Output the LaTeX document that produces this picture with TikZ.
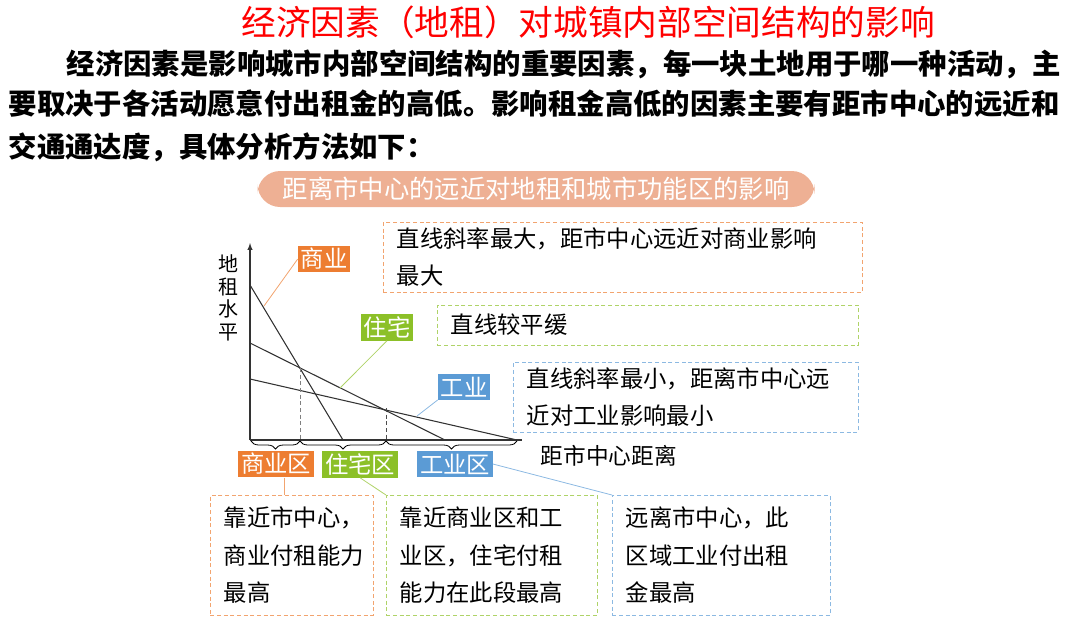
\documentclass[tikz,border=0pt]{standalone}
\usepackage{fontspec}
\setmainfont{Noto Sans CJK SC}
\usetikzlibrary{positioning, decorations.pathreplacing}
\definecolor{comc}{RGB}{237,125,49}
\definecolor{resc}{RGB}{140,192,40}
\definecolor{indc}{RGB}{91,155,213}
\definecolor{pillc}{RGB}{238,176,148}

\begin{document}
\begin{tikzpicture}[x=0.75pt, y=-0.75pt,
    tag/.style={rectangle, fill=#1, text=white, inner sep=2pt, font=\fontsize{17.5}{19}\selectfont},
    note/.style={rectangle, draw=#1, densely dashed, line width=0.5pt, align=left, anchor=north west, font=\fontsize{17.5}{28}\selectfont, inner xsep=10pt, inner ysep=4pt},
    lead/.style={draw=#1!70, line width=0.6pt},
    curve/.style={line width=0.8pt, black!80},
    zone/.style={decorate, decoration={brace, mirror, amplitude=6pt}, line width=0.6pt}
]
    \useasboundingbox (0,0) rectangle (1080,619);

    % Heading and text
    \node[text=red, font=\fontsize{26}{30}\selectfont] (title) at (588,22) {经济因素（地租）对城镇内部空间结构的影响};
    \node[anchor=west, font=\bfseries\fontsize{21.3}{24}\selectfont] (line1) at (62,64) {经济因素是影响城市内部空间结构的重要因素，每一块土地用于哪一种活动，主};
    \node[anchor=west, font=\bfseries\fontsize{21.3}{24}\selectfont] (line2) at (4,104) {要取决于各活动愿意付出租金的高低。影响租金高低的因素主要有距市中心的远近和};
    \node[anchor=west, font=\bfseries\fontsize{21.3}{24}\selectfont] (line3) at (4,147) {交通通达度，具体分析方法如下：};
    \node[fill=pillc, rounded corners=17pt, minimum width=557*0.75pt, minimum height=36*0.75pt, text=white, font=\fontsize{19}{22}\selectfont] (pill) at (536,189) {距离市中心的远近对地租和城市功能区的影响};

    % Axes
    \coordinate (o) at (250,440);
    \coordinate (ytop) at (250,243);
    \coordinate (xend) at (522,440);
    \draw[-latex, line width=0.8pt, black!80] (o) -- (ytop);
    \draw[line width=0.8pt, black!80] (o) -- (xend);
    \node[align=center, font=\fontsize{15}{17}\selectfont] (ylab) at (228,298) {地\\租\\水\\平};
    \node[anchor=west, font=\fontsize{17}{20}\selectfont] (xlab) at (536,456) {距市中心距离};

    % Rent lines
    \coordinate (c1) at (250,285); \coordinate (c2) at (343,440);
    \coordinate (r1) at (250,343); \coordinate (r2) at (445,440);
    \coordinate (i1) at (250,379); \coordinate (i2) at (517,440);
    \draw[curve] (c1) -- (c2);
    \draw[curve] (r1) -- (r2);
    \draw[curve] (i1) -- (i2);
    \draw[densely dashed, gray] (300,368) -- (300,440);
    \draw[densely dashed, black!70] (386,408) -- (386,440);

    % Braces
    \draw[zone] (251,441) -- (300,441);
    \draw[zone] (300,441) -- (386,441);
    \draw[zone] (386,441) -- (517,441);

    % Line tags
    \node[tag=comc] (tcom) at (324,259) {商业};
    \node[tag=resc] (tres) at (387,327) {住宅};
    \node[tag=indc] (tind) at (464,387) {工业};
    \draw[lead=comc] (264,306) -- (tcom.west);
    \draw[lead=resc] (340,388) -- (tres.south);
    \draw[lead=indc] (417,416) -- (tind.south west);

    % Zone tags
    \node[tag=comc] (zcom) at (276,464) {商业区};
    \node[tag=resc] (zres) at (360,464) {住宅区};
    \node[tag=indc] (zind) at (455,464) {工业区};

    % Notes
    \node[note=comc!70] (ncom) at (383,222) {\parbox{452\dimexpr0.75pt}{直线斜率最大，距市中心远近对商业影响\\最大}};
    \node[note=resc!70, minimum height=40*0.75pt, anchor=west, text width=394*0.75pt] (nres) at (437,325) {直线较平缓};
    \node[note=indc!70] (nind) at (513,362) {\parbox{318\dimexpr0.75pt}{直线斜率最小，距离市中心远\\近对工业影响最小}};
    \node[note=comc!70, minimum height=120*0.75pt] (bcom) at (210,495) {\parbox{136\dimexpr0.75pt}{靠近市中心，\\商业付租能力\\最高}};
    \node[note=resc!70, minimum height=120*0.75pt] (bres) at (386,495) {\parbox{184\dimexpr0.75pt}{靠近商业区和工\\业区，住宅付租\\能力在此段最高}};
    \node[note=indc!70, minimum height=120*0.75pt] (bind) at (612,495) {\parbox{191\dimexpr0.75pt}{远离市中心，此\\区域工业付出租\\金最高}};
    \draw[lead=comc] (zcom.south) ++(8,0) -- (bcom.north -| 284,0);
    \draw[lead=resc] (zres.south) -- (bres.north west);
    \draw[lead=indc] (zind.east) -- (bind.north west);
\end{tikzpicture}
\end{document}
